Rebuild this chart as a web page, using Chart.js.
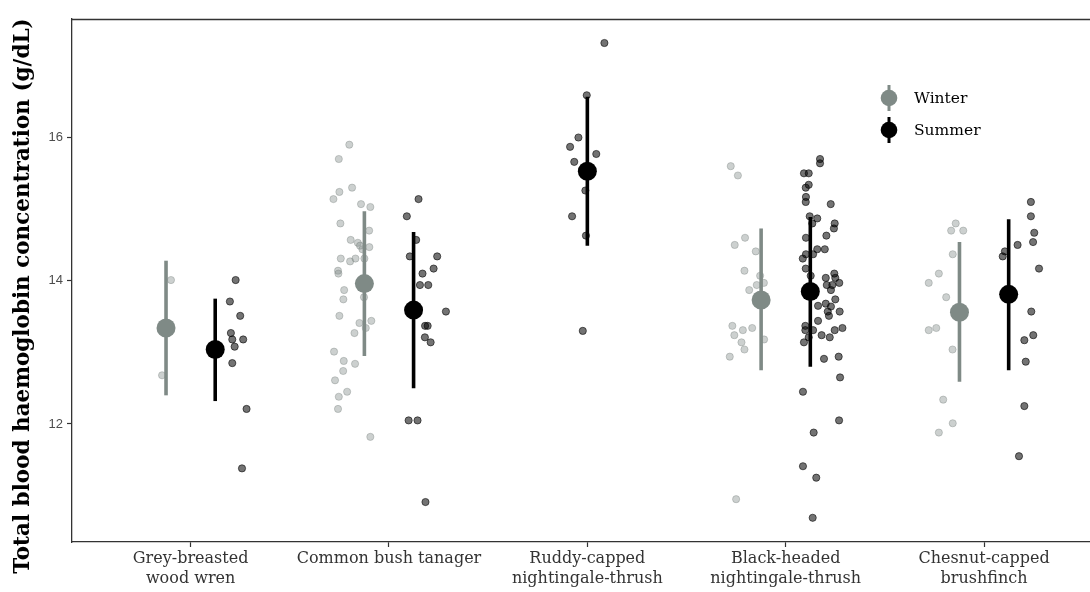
<!DOCTYPE html>
<html>
<head>
<meta charset="utf-8">
<script src="https://cdn.jsdelivr.net/npm/chart.js@4.4.1/dist/chart.umd.min.js"></script>
<style>
  html, body { margin: 0; padding: 0; background: #ffffff; }
  #wrap { width: 1090px; height: 592px; }
</style>
</head>
<body>
<div id="wrap"><canvas id="c" width="1090" height="592"></canvas></div>
<script>
// ---------- DATA ----------
const categories = [
  "Grey-breasted\nwood wren",
  "Common bush tanager",
  "Ruddy-capped\nnightingale-thrush",
  "Black-headed\nnightingale-thrush",
  "Chesnut-capped\nbrushfinch"
];
const yTicks = [12, 14, 16];
const seasons = ["Winter", "Summer"];

// means and interval ends (null = no winter sample)
const winterMean = [13.34, 13.96, null, 13.73, 13.56];
const winterLow  = [12.40, 12.95, null, 12.75, 12.59];
const winterHigh = [14.28, 14.97, null, 14.73, 14.54];

const summerMean = [13.04, 13.59, 15.53, 13.85, 13.81];
const summerLow  = [12.32, 12.50, 14.49, 12.80, 12.75];
const summerHigh = [13.75, 14.68, 16.57, 14.89, 14.86];

// individual observations per species
const winterObs = [
  [14.01, 12.68],
  [15.90, 15.70, 15.30, 15.24, 15.14, 15.07, 15.03, 14.80, 14.70, 14.57, 14.53, 14.49, 14.47, 14.44, 14.31, 14.31, 14.27, 14.31, 14.14, 14.10, 13.87, 13.74, 13.77, 13.51, 13.41, 13.44, 13.34, 13.27, 13.01, 12.88, 12.84, 12.74, 12.61, 12.45, 12.38, 12.21, 11.82],
  [],
  [15.60, 15.47, 14.60, 14.50, 14.41, 14.14, 14.07, 13.97, 13.94, 13.87, 13.37, 13.31, 13.34, 13.24, 13.18, 13.14, 13.04, 12.94, 10.95],
  [14.80, 14.70, 14.70, 14.37, 14.10, 13.97, 13.77, 13.34, 13.31, 13.04, 12.34, 12.01, 11.88]
];
const summerObs = [
  [14.01, 13.71, 13.51, 13.27, 13.18, 13.18, 13.08, 12.85, 12.21, 11.38],
  [15.14, 14.90, 14.57, 14.34, 14.34, 14.17, 14.10, 13.94, 13.94, 13.57, 13.37, 13.37, 13.21, 13.14, 12.05, 12.05, 10.91],
  [17.32, 16.59, 16.00, 15.87, 15.77, 15.66, 15.26, 14.90, 14.63, 13.30],
  [15.70, 15.64, 15.50, 15.50, 15.34, 15.30, 15.17, 15.10, 15.07, 14.90, 14.87, 14.80, 14.80, 14.73, 14.63, 14.60, 14.44, 14.44, 14.37, 14.37, 14.31, 14.17, 14.07, 14.04, 14.10, 14.04, 13.94, 13.94, 13.97, 13.87, 13.74, 13.65, 13.68, 13.64, 13.57, 13.57, 13.51, 13.44, 13.37, 13.34, 13.31, 13.31, 13.31, 13.24, 13.21, 13.21, 13.14, 12.91, 12.94, 12.65, 12.45, 12.05, 11.88, 11.41, 11.25, 10.69],
  [15.10, 14.90, 14.67, 14.54, 14.50, 14.41, 14.34, 14.17, 13.57, 13.24, 13.17, 12.87, 12.25, 11.55]
];
const winterJitter = [
  [0.025, -0.020],
  [-0.076, -0.129, -0.062, -0.126, -0.156, -0.017, 0.030, -0.121, 0.024, -0.069, -0.033, -0.022, 0.025, -0.010, -0.119, -0.045, -0.072, 0.000, -0.133, -0.131, -0.102, -0.106, -0.002, -0.126, -0.025, 0.035, 0.007, -0.050, -0.153, -0.104, -0.047, -0.107, -0.148, -0.087, -0.129, -0.133, 0.030],
  [],
  [-0.153, -0.117, -0.081, -0.133, -0.027, -0.084, -0.005, 0.014, -0.022, -0.060, -0.145, -0.092, -0.045, -0.135, 0.015, -0.099, -0.084, -0.158, -0.126],
  [-0.019, -0.042, 0.019, -0.034, -0.104, -0.155, -0.067, -0.117, -0.155, -0.035, -0.082, -0.034, -0.104]
];
const summerJitter = [
  [0.103, 0.074, 0.126, 0.079, 0.086, 0.141, 0.098, 0.086, 0.158, 0.135],
  [0.025, -0.034, 0.013, -0.019, 0.119, 0.101, 0.045, 0.032, 0.074, 0.163, 0.058, 0.071, 0.057, 0.086, -0.025, 0.020, 0.060],
  [0.086, -0.003, -0.045, -0.087, 0.045, -0.066, -0.010, -0.077, -0.007, -0.023],
  [0.049, 0.049, -0.032, -0.008, -0.008, -0.023, -0.022, -0.023, 0.103, -0.003, 0.035, 0.010, 0.123, 0.119, 0.081, -0.022, 0.073, 0.035, -0.022, 0.014, -0.038, -0.023, 0.002, 0.078, 0.121, 0.126, 0.083, 0.111, 0.146, 0.104, 0.126, 0.039, 0.078, 0.104, 0.088, 0.148, 0.094, 0.039, -0.025, 0.162, 0.123, 0.014, -0.025, 0.057, 0.098, -0.008, -0.032, 0.069, 0.143, 0.150, -0.037, 0.145, 0.017, -0.037, 0.030, 0.012],
  [0.112, 0.112, 0.129, 0.123, 0.045, -0.019, -0.030, 0.153, 0.114, 0.124, 0.079, 0.086, 0.079, 0.052]
];

// ---------- STYLE ----------
const DODGE = 0.124;
const WINTER_COL = "#7f8a86";
const SUMMER_COL = "#000000";
const SERIF = "'DejaVu Serif', 'Liberation Serif', serif";
const SANS = "'Liberation Sans', Arial, sans-serif";

function groupX(i, season) {
  const both = winterMean[i] !== null && summerMean[i] !== null;
  if (!both) return i + 1;
  return season === "Winter" ? i + 1 - DODGE : i + 1 + DODGE;
}

const datasets = [];

// mean points (drawn on top)
datasets.push({
  type: "scatter", label: "Winter mean", order: 1,
  data: winterMean.map((m, i) => m === null ? null : { x: groupX(i, "Winter"), y: m }).filter(Boolean),
  backgroundColor: WINTER_COL, borderColor: WINTER_COL, borderWidth: 0, pointRadius: 9.5, pointHoverRadius: 9.5
});
datasets.push({
  type: "scatter", label: "Summer mean", order: 1,
  data: summerMean.map((m, i) => m === null ? null : { x: groupX(i, "Summer"), y: m }).filter(Boolean),
  backgroundColor: SUMMER_COL, borderColor: SUMMER_COL, borderWidth: 0, pointRadius: 9.5, pointHoverRadius: 9.5
});

// interval lines
function addBars(means, lows, highs, season, col) {
  means.forEach((m, i) => {
    if (m === null) return;
    const x = groupX(i, season);
    datasets.push({
      type: "line", label: season + " interval " + (i + 1), order: 2,
      data: [{ x: x, y: lows[i] }, { x: x, y: highs[i] }],
      borderColor: col, borderWidth: 3.6, pointRadius: 0, borderCapStyle: "butt", fill: false
    });
  });
}
addBars(winterMean, winterLow, winterHigh, "Winter", WINTER_COL);
addBars(summerMean, summerLow, summerHigh, "Summer", SUMMER_COL);

// raw observations
function obsPoints(obs, jit, season) {
  const pts = [];
  obs.forEach((arr, i) => {
    arr.forEach((v, k) => pts.push({ x: groupX(i, season) + jit[i][k], y: v }));
  });
  return pts;
}
datasets.push({
  type: "scatter", label: "Winter observations", order: 3,
  data: obsPoints(winterObs, winterJitter, "Winter"),
  backgroundColor: "rgba(127,138,134,0.40)", borderColor: "rgba(110,120,117,0.42)", borderWidth: 0.8,
  pointRadius: 3.6, pointHoverRadius: 3.6
});
datasets.push({
  type: "scatter", label: "Summer observations", order: 3,
  data: obsPoints(summerObs, summerJitter, "Summer"),
  backgroundColor: "rgba(0,0,0,0.55)", borderColor: "rgba(0,0,0,0.72)", borderWidth: 0.8,
  pointRadius: 3.6, pointHoverRadius: 3.6
});

// ---------- PLUGINS ----------
const decorations = {
  id: "decorations",
  afterDraw(chart) {
    const ctx = chart.ctx;
    const a = chart.chartArea;
    ctx.save();
    // top frame line
    ctx.strokeStyle = "#333333";
    ctx.lineWidth = 1.3;
    ctx.beginPath();
    ctx.moveTo(a.left, a.top + 0.5);
    ctx.lineTo(chart.width, a.top + 0.5);
    ctx.stroke();

    // y axis title
    ctx.translate(23, 296);
    ctx.rotate(-Math.PI / 2);
    ctx.fillStyle = "#000000";
    ctx.font = "bold 21.5px " + SERIF;
    ctx.textAlign = "center";
    ctx.textBaseline = "middle";
    ctx.fillText("Total blood haemoglobin concentration (g/dL)", 0, 0);
    ctx.restore();

    // legend
    ctx.save();
    const items = [
      { label: seasons[0], col: WINTER_COL, y: 98 },
      { label: seasons[1], col: SUMMER_COL, y: 130 }
    ];
    items.forEach(it => {
      ctx.strokeStyle = it.col;
      ctx.lineWidth = 3;
      ctx.beginPath();
      ctx.moveTo(889, it.y - 13);
      ctx.lineTo(889, it.y + 13);
      ctx.stroke();
      ctx.fillStyle = it.col;
      ctx.beginPath();
      ctx.arc(889, it.y, 8.3, 0, Math.PI * 2);
      ctx.fill();
      ctx.fillStyle = "#000000";
      ctx.font = "15.5px " + SERIF;
      ctx.textAlign = "left";
      ctx.textBaseline = "middle";
      ctx.fillText(it.label, 914, it.y + 1);
    });
    ctx.restore();
  }
};

new Chart(document.getElementById("c"), {
  type: "scatter",
  data: { datasets: datasets },
  options: {
    responsive: false,
    animation: false,
    devicePixelRatio: 1,
    layout: { autoPadding: false, padding: { top: 19, right: 0, left: 0, bottom: 0 } },
    plugins: { legend: { display: false }, tooltip: { enabled: false } },
    scales: {
      x: {
        type: "linear",
        min: 0.402,
        max: 5.534,
        afterBuildTicks: (scale) => { scale.ticks = categories.map((c, i) => ({ value: i + 1 })); },
        afterFit: (scale) => { scale.height = 50; scale.paddingLeft = 0; scale.paddingRight = 0; },
        grid: { display: true, drawOnChartArea: false, drawTicks: true, tickLength: 5, tickWidth: 1.2, tickColor: "#333333" },
        border: { display: true, color: "#333333", width: 1.3 },
        ticks: {
          autoSkip: false, maxRotation: 0, minRotation: 0, padding: 2,
          color: "#333333",
          font: { family: SERIF, size: 16, lineHeight: 1.25 },
          callback: (v) => { const c = categories[Math.round(v) - 1]; return c ? c.split("\n") : ""; }
        }
      },
      y: {
        type: "linear",
        min: 10.352,
        max: 17.655,
        afterBuildTicks: (scale) => { scale.ticks = yTicks.map(v => ({ value: v })); },
        afterFit: (scale) => { scale.width = 72; scale.paddingTop = 0; scale.paddingBottom = 0; },
        grid: { display: true, drawOnChartArea: false, drawTicks: true, tickLength: 5, tickWidth: 1.2, tickColor: "#333333" },
        border: { display: true, color: "#333333", width: 1.3 },
        ticks: {
          padding: 4,
          color: "#4d4d4d",
          font: { family: SANS, size: 13 },
          callback: (v) => String(v)
        }
      }
    }
  },
  plugins: [decorations]
});
</script>
</body>
</html>
